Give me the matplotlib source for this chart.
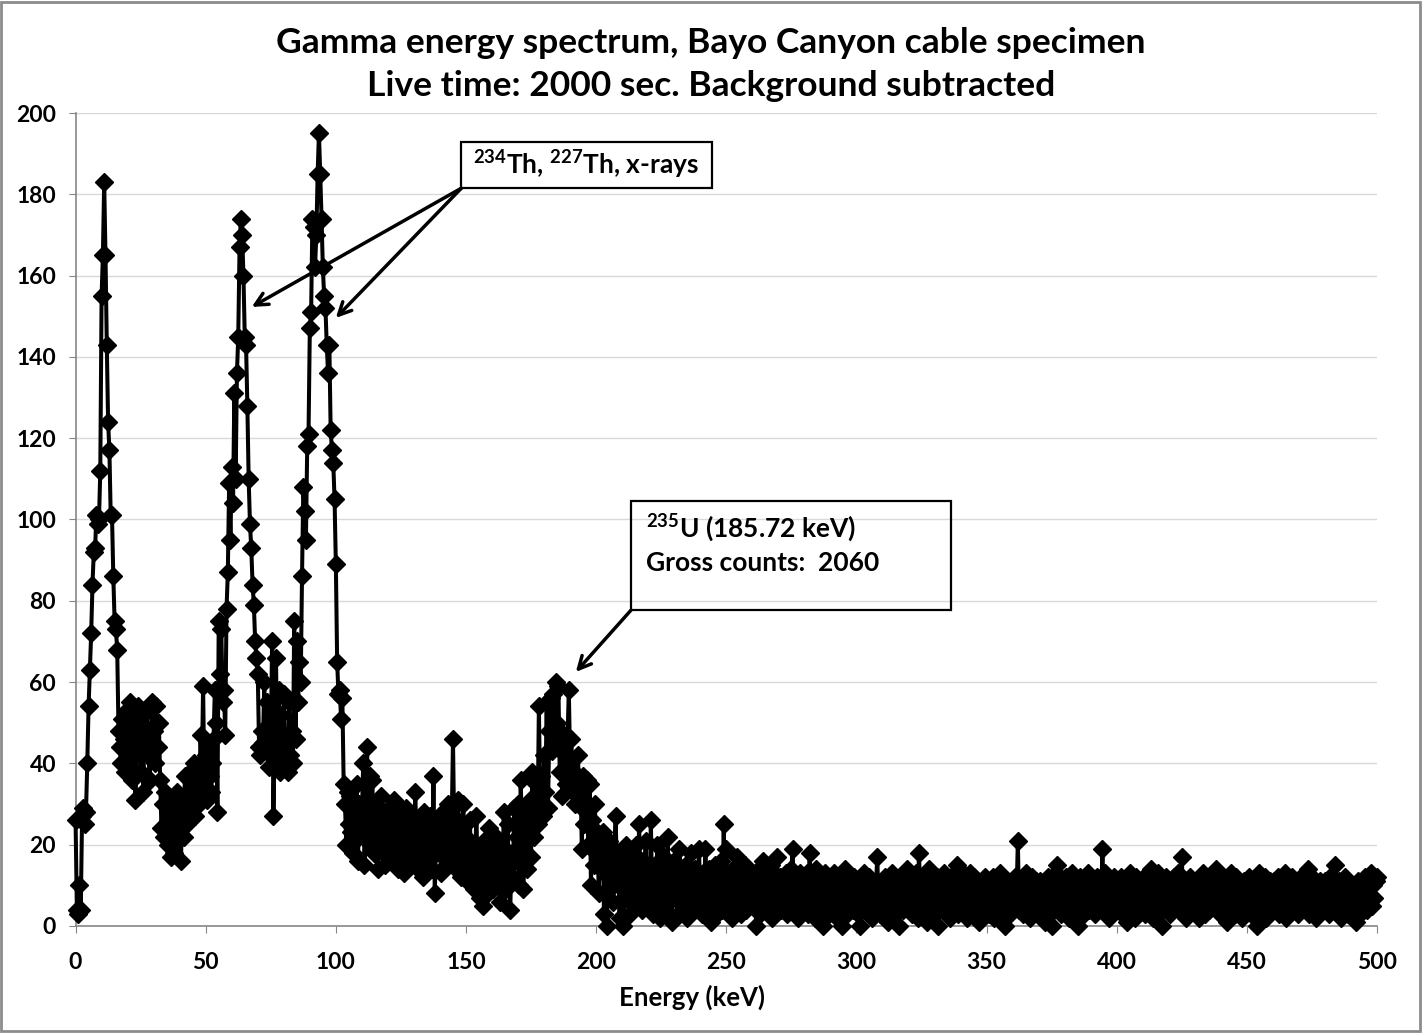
import numpy as np
import matplotlib.pyplot as plt
from matplotlib.patches import Rectangle

plt.rcParams['font.family'] = ['Lato', 'DejaVu Sans']
plt.rcParams['font.weight'] = 'bold'
plt.rcParams['mathtext.fontset'] = 'custom'
plt.rcParams['mathtext.rm'] = 'Lato:bold'
plt.rcParams['mathtext.bf'] = 'Lato:bold'
plt.rcParams['mathtext.default'] = 'bf'

# channel width of the spectrum (keV per channel)
CHANNEL_KEV = 0.5

# counts per channel, one row = 10 keV (20 channels)
r000 = [26, 4, 3, 10, 4, 27, 29, 25, 28, 40, 54, 63, 72, 84, 92, 93, 101, 99, 100, 112]
r010 = [155, 165, 183, 165, 143, 124, 117, 101, 101, 86, 75, 73, 68, 48, 44, 40, 51, 46, 38, 53]
r020 = [49, 42, 55, 36, 52, 47, 31, 45, 54, 51, 38, 47, 33, 49, 44, 53, 42, 36, 46, 55]
r030 = [48, 40, 54, 44, 50, 36, 24, 30, 22, 33, 25, 20, 28, 17, 31, 24, 18, 29, 33, 21]
r040 = [26, 16, 30, 22, 37, 28, 25, 33, 38, 29, 35, 40, 27, 32, 36, 30, 47, 38, 59, 33]
r050 = [42, 31, 45, 37, 33, 40, 46, 58, 50, 28, 75, 62, 73, 55, 58, 47, 78, 87, 109, 95]
r060 = [113, 104, 131, 110, 136, 145, 167, 174, 170, 160, 145, 143, 128, 110, 99, 93, 84, 79, 70, 66]
r070 = [62, 44, 42, 48, 45, 60, 43, 55, 47, 39, 44, 70, 27, 45, 66, 40, 58, 38, 52, 43]
r080 = [57, 40, 45, 38, 55, 42, 48, 40, 75, 46, 70, 55, 65, 60, 86, 108, 102, 95, 118, 121]
r090 = [147, 151, 174, 172, 162, 170, 185, 195, 185, 174, 162, 155, 152, 143, 136, 143, 122, 117, 114, 105]
r100 = [89, 65, 57, 58, 51, 56, 35, 30, 20, 33, 25, 32, 23, 18, 28, 21, 35, 16, 30, 24]
r110 = [27, 40, 15, 26, 44, 22, 37, 20, 36, 18, 30, 25, 14, 28, 21, 32, 18, 24, 15, 27]
r120 = [20, 29, 16, 26, 22, 31, 17, 30, 14, 25, 19, 28, 13, 23, 29, 18, 26, 15, 22, 27]
r130 = [18, 33, 21, 14, 26, 19, 24, 12, 28, 17, 23, 16, 27, 20, 14, 37, 8, 22, 26, 18]
r140 = [24, 13, 28, 19, 23, 15, 30, 20, 17, 25, 46, 21, 14, 26, 31, 18, 12, 24, 30, 16]
r150 = [22, 11, 19, 26, 14, 20, 9, 17, 27, 12, 18, 7, 15, 5, 21, 10, 16, 8, 24, 13]
r160 = [19, 9, 14, 22, 11, 17, 6, 20, 12, 28, 15, 9, 25, 13, 4, 18, 11, 29, 16, 22]
r170 = [30, 10, 36, 24, 9, 18, 29, 14, 25, 31, 17, 38, 22, 29, 35, 25, 54, 31, 37, 27]
r180 = [42, 33, 55, 29, 48, 56, 43, 57, 46, 60, 50, 59, 38, 45, 32, 47, 42, 35, 46, 58]
r190 = [40, 46, 33, 38, 30, 37, 42, 32, 36, 19, 37, 25, 28, 36, 20, 35, 10, 26, 15, 30]
r200 = [18, 23, 8, 20, 14, 23, 3, 17, 0, 12, 21, 9, 15, 6, 19, 27, 11, 16, 2, 13]
r210 = [18, 0, 10, 20, 7, 15, 3, 12, 18, 5, 14, 20, 8, 25, 11, 4, 16, 9, 21, 6]
r220 = [12, 5, 26, 9, 3, 15, 7, 20, 11, 2, 14, 8, 17, 4, 10, 22, 6, 13, 1, 9]
r230 = [16, 7, 11, 3, 19, 8, 13, 5, 10, 15, 2, 12, 6, 18, 9, 4, 14, 7, 11, 19]
r240 = [8, 3, 13, 10, 19, 5, 9, 14, 1, 11, 6, 15, 8, 3, 12, 7, 16, 4, 25, 9]
r250 = [19, 6, 12, 9, 2, 14, 7, 10, 17, 5, 11, 3, 13, 8, 15, 4, 9, 12, 6, 10]
r260 = [13, 5, 8, 0, 11, 14, 3, 9, 16, 7, 12, 4, 10, 6, 15, 2, 8, 11, 5, 17]
r270 = [7, 12, 4, 12, 9, 6, 13, 3, 10, 8, 14, 19, 5, 7, 11, 2, 9, 13, 4, 8]
r280 = [10, 6, 13, 3, 18, 8, 5, 11, 2, 14, 7, 9, 4, 12, 0, 8, 13, 6, 10, 3]
r290 = [11, 7, 4, 13, 9, 2, 12, 6, 10, 0, 8, 14, 5, 3, 11, 7, 9, 4, 12, 6]
r300 = [8, 3, 10, 0, 11, 5, 13, 7, 4, 9, 12, 6, 2, 8, 10, 10, 17, 5, 3, 7]
r310 = [9, 4, 12, 6, 1, 10, 7, 13, 3, 8, 11, 5, 9, 0, 12, 6, 4, 10, 7, 14]
r320 = [5, 11, 8, 3, 10, 6, 13, 2, 18, 9, 4, 12, 7, 10, 1, 8, 14, 5, 11, 6]
r330 = [3, 9, 12, 0, 7, 10, 5, 13, 8, 4, 11, 6, 2, 9, 12, 7, 5, 15, 3, 14]
r340 = [8, 4, 11, 6, 10, 2, 9, 13, 7, 3, 12, 5, 8, 11, 1, 9, 6, 10, 4, 12]
r350 = [6, 9, 3, 11, 7, 12, 2, 8, 10, 5, 13, 4, 9, 7, 0, 11, 6, 10, 3, 8]
r360 = [10, 5, 12, 7, 21, 4, 9, 11, 3, 8, 13, 6, 10, 2, 9, 12, 5, 7, 11, 4]
r370 = [8, 11, 3, 10, 6, 1, 9, 12, 5, 7, 0, 10, 4, 13, 15, 6, 11, 3, 9, 7]
r380 = [5, 12, 8, 2, 10, 6, 13, 4, 9, 11, 0, 7, 12, 5, 8, 3, 10, 6, 13, 4]
r390 = [9, 6, 11, 3, 8, 12, 5, 10, 7, 19, 4, 13, 6, 9, 2, 11, 8, 5, 12, 7]
r400 = [10, 4, 8, 12, 3, 9, 6, 11, 1, 7, 13, 5, 10, 8, 2, 12, 6, 9, 4, 11]
r410 = [7, 12, 3, 9, 5, 10, 14, 6, 2, 8, 11, 4, 13, 7, 9, 0, 10, 5, 12, 6]
r420 = [9, 3, 11, 7, 12, 5, 8, 13, 4, 10, 17, 6, 9, 2, 11, 7, 12, 4, 8, 10]
r430 = [5, 11, 8, 2, 10, 6, 13, 9, 3, 7, 12, 4, 9, 11, 5, 8, 14, 6, 10, 3]
r440 = [8, 12, 4, 10, 6, 1, 11, 7, 13, 5, 9, 3, 12, 8, 6, 10, 2, 9, 11, 5]
r450 = [10, 6, 12, 3, 8, 11, 5, 9, 0, 13, 7, 4, 10, 8, 12, 2, 9, 6, 11, 4]
r460 = [7, 11, 5, 9, 12, 3, 8, 10, 6, 13, 2, 9, 11, 4, 7, 12, 5, 10, 8, 3]
r470 = [9, 4, 11, 7, 10, 13, 6, 14, 3, 8, 12, 5, 9, 2, 10, 7, 11, 4, 8, 6]
r480 = [11, 5, 9, 3, 12, 7, 10, 4, 15, 8, 6, 11, 2, 9, 7, 12, 5, 10, 3, 8]
r490 = [6, 10, 4, 9, 1, 11, 7, 3, 10, 5, 8, 12, 4, 9, 6, 13, 5, 10, 7, 11]
r500 = [12]

rows = [r000, r010, r020, r030, r040, r050, r060, r070, r080, r090,
        r100, r110, r120, r130, r140, r150, r160, r170, r180, r190,
        r200, r210, r220, r230, r240, r250, r260, r270, r280, r290,
        r300, r310, r320, r330, r340, r350, r360, r370, r380, r390,
        r400, r410, r420, r430, r440, r450, r460, r470, r480, r490, r500]
counts = np.array([c for r in rows for c in r])
energy = np.arange(len(counts)) * CHANNEL_KEV

title = 'Gamma energy spectrum, Bayo Canyon cable specimen\nLive time: 2000 sec. Background subtracted'
x_ticks = list(range(0, 501, 50))
y_ticks = list(range(0, 201, 20))

fig = plt.figure(figsize=(14.23, 10.33), dpi=100)
ax = fig.add_axes([0.0531, 0.1036, 0.9146, 0.787])

ax.plot(energy, counts, color='black', lw=2.9, marker='D', ms=9,
        markeredgecolor='black', markerfacecolor='black', clip_on=False, zorder=3)

ax.set_xlim(0, 500)
ax.set_ylim(0, 200)
ax.set_xticks(x_ticks)
ax.set_yticks(y_ticks)
ax.yaxis.grid(True, color='#d9d9d9', lw=1)
ax.set_axisbelow(True)
for s in ['top', 'right']:
    ax.spines[s].set_visible(False)
for s in ['left', 'bottom']:
    ax.spines[s].set_color('#868686')
    ax.spines[s].set_linewidth(1.2)
ax.tick_params(direction='out', length=5, color='#868686', labelsize=16.5)
ax.tick_params(axis='x', pad=14)
ax.tick_params(axis='y', pad=9)
for lab in ax.get_xticklabels() + ax.get_yticklabels():
    lab.set_fontweight('bold')
ax.set_xlabel('Energy (keV)', fontsize=18.5, fontweight='bold', va='center')
ax.xaxis.set_label_coords(0.474, -0.0873)

fig.text(0.4997, 0.938, title, ha='center', va='center', fontsize=25.5,
         fontweight='bold', linespacing=1.42)

# annotation boxes
ax.add_patch(Rectangle((147.9, 181.5), 96.5, 11.4, fill=False, ec='black', lw=1.6, clip_on=False))
ax.text(196.1, 187.2, r'$^{234}$Th, $^{227}$Th, x-rays', ha='center', va='center',
        fontsize=19, fontweight='bold')
ax.add_patch(Rectangle((213.3, 77.7), 122.9, 26.9, fill=False, ec='black', lw=1.6, clip_on=False))
ax.text(219.0, 98.0, r'$^{235}$U (185.72 keV)', ha='left', va='center',
        fontsize=19, fontweight='bold')
ax.text(219.0, 89.3, 'Gross counts:  2060', ha='left', va='center',
        fontsize=19, fontweight='bold')

arrow = dict(arrowstyle='->,head_length=0.9,head_width=0.45', lw=2.5, color='black',
             shrinkA=0, shrinkB=0)
ax.annotate('', xy=(67.7, 152.3), xytext=(148.2, 181.5), arrowprops=arrow)
ax.annotate('', xy=(100.0, 149.6), xytext=(148.2, 181.5), arrowprops=arrow)
ax.annotate('', xy=(192.2, 62.5), xytext=(213.4, 77.7), arrowprops=arrow)

fig.patches.append(Rectangle((0.001, 0.002), 0.997, 0.996, transform=fig.transFigure,
                             fill=False, ec='#8c8c8c', lw=2))

fig.savefig('out.png', dpi=100, facecolor='white')
